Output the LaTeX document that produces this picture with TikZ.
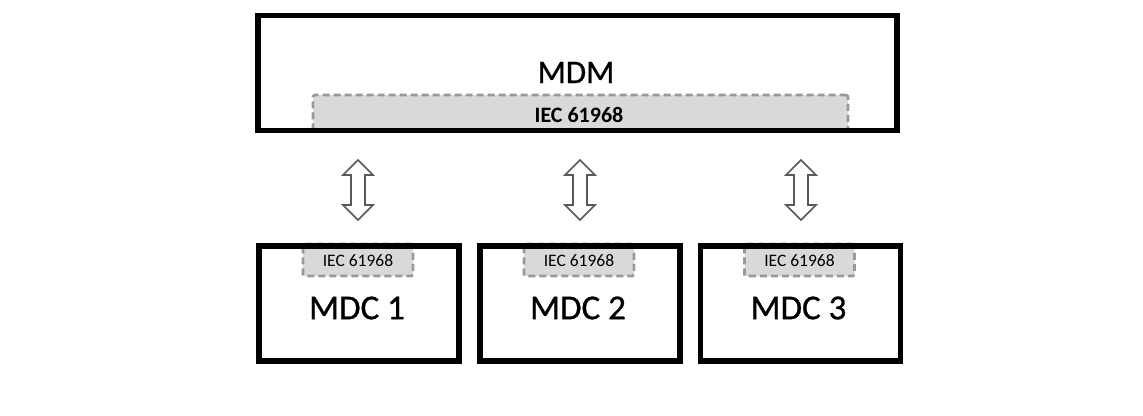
\documentclass[tikz,border=0pt]{standalone}
\usepackage{fontspec}
\setmainfont{Carlito}
\newfontfamily\heavyfont[FakeBold=0.8]{Carlito}
\usetikzlibrary{calc}
\begin{document}
\begin{tikzpicture}[x=1pt,y=-1pt,
  boxfill/.style={fill=white, inner sep=0pt, minimum height=115pt},
  boxline/.style={draw=black, line width=5.5pt, line join=miter},
  iecbox/.style={draw=black!40, fill=black!15, dash pattern=on 7pt off 4pt, line width=2.6pt, rounded corners=1.5pt, inner sep=0pt},
  bigtxt/.style={inner sep=0pt, font=\heavyfont\fontsize{35pt}{40pt}\selectfont},
  smalltxt/.style={inner sep=0pt, font=\fontsize{17.5pt}{20pt}\selectfont},
  midtxt/.style={inner sep=0pt, font=\bfseries\fontsize{22pt}{26pt}\selectfont},
  darrow/.style={draw=black!65, line width=1.6pt, fill=white, line join=miter}
]
\useasboundingbox (0,0) rectangle (1143,415);

% MDM
\node[boxfill, minimum width=639pt] (mdm) at (577.5,73) {};
\node[iecbox, minimum width=535pt, minimum height=36pt] (iecmdm) at (580.5,113) {};
\draw[boxline] (mdm.north west) rectangle (mdm.south east);
\node[bigtxt, font=\heavyfont\fontsize{33pt}{38pt}\selectfont] (mdmtxt) at (576,72.5) {MDM};
\node[midtxt] (iecmdmtxt) at (579,115) {IEC 61968};

% MDC boxes
\foreach \i/\x in {1/359,2/580,3/800.5}{
  \node[boxfill, minimum width=200pt] (mdc\i) at (\x,303.5) {};
  \node[iecbox, minimum width=110pt, minimum height=32pt] (iec\i) at (\x-1,260) {};
  \draw[boxline] (mdc\i.north west) rectangle (mdc\i.south east);
  \node[smalltxt] (iectxt\i) at (\x-1,260.5) {IEC 61968};
  \node[bigtxt] (mdctxt\i) at (\x-2,308) {MDC \i};
}

% double arrows
\foreach \i/\x in {1/358,2/580,3/801}{
  \coordinate (c\i) at (\x,190);
  \draw[darrow] ($(c\i)+(0,-30)$) -- ++(15,15) -- ++(-8,0) -- ++(0,30) -- ++(8,0)
     -- ++(-15,15) -- ++(-15,-15) -- ++(8,0) -- ++(0,-30) -- ++(-8,0) -- cycle;
}
\end{tikzpicture}
\end{document}
